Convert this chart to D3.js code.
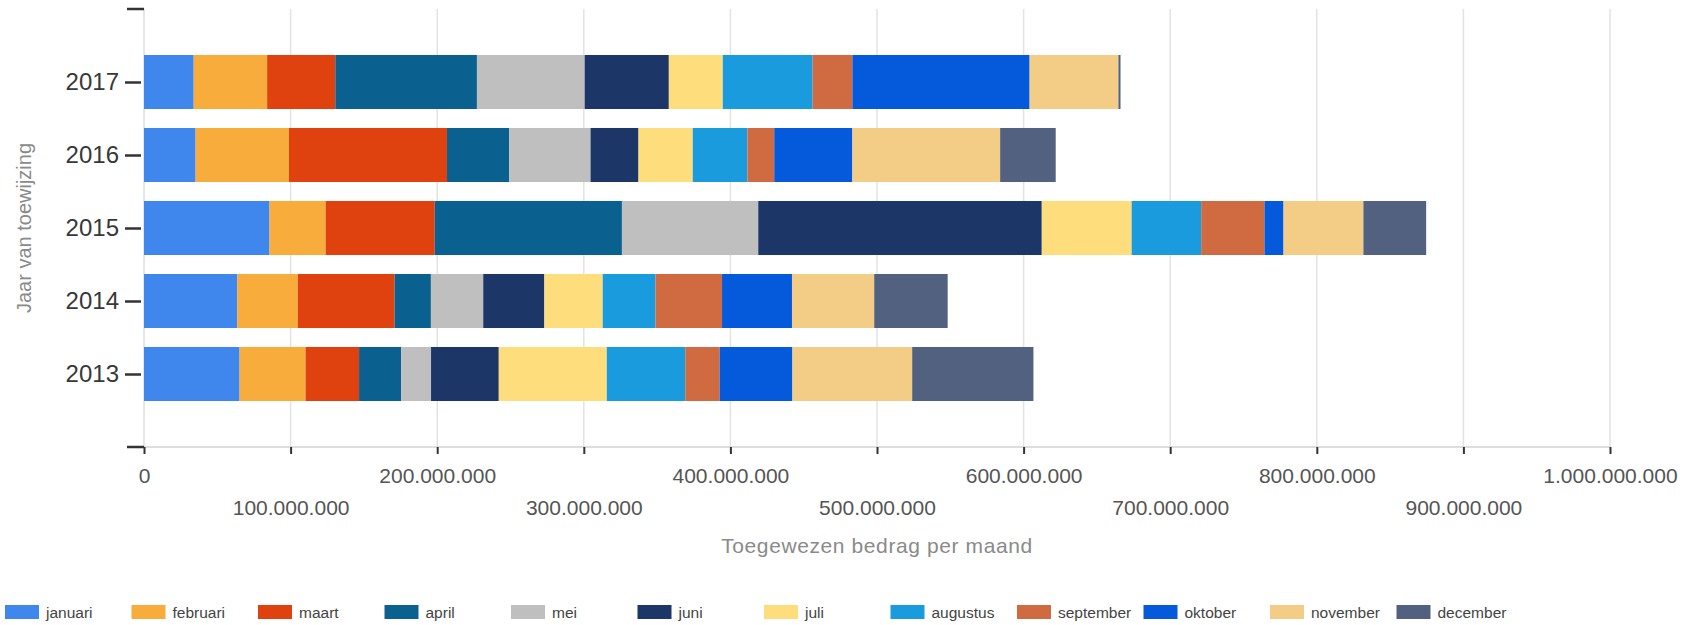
<!DOCTYPE html>
<html>
<head>
<meta charset="utf-8">
<script src="https://cdn.jsdelivr.net/npm/d3@7"></script>
<style>
  html, body { margin: 0; padding: 0; background: #fff; }
  svg { display: block; font-family: "Liberation Sans", Arial, sans-serif; }
</style>
</head>
<body>
<svg id="chart" width="1696" height="625"></svg>
<script>
// Years shown on the vertical axis, top to bottom
const years = ["2017", "2016", "2015", "2014", "2013"];

// Months (stack order, left to right)
const months = ["januari", "februari", "maart", "april", "mei", "juni",
                "juli", "augustus", "september", "oktober", "november", "december"];

const monthColors = ["#3f87ec", "#f8ac3c", "#e0420f", "#0a6190", "#bfbfbf", "#1c3667",
                     "#fedd7d", "#199bde", "#d06a40", "#045adb", "#f3cd85", "#52617f"];

// Allocated amount per month (in euro), one array per year
const values2017 = [33.9e6, 50.1e6, 46.5e6, 96.6e6, 73.5e6, 57.4e6, 36.8e6, 61.3e6, 27.1e6, 120.9e6, 60.6e6, 1.4e6];
const values2016 = [35.2e6, 63.7e6, 107.8e6, 42.5e6, 55.4e6, 32.7e6, 37.0e6, 37.3e6, 18.3e6, 53.3e6, 100.8e6, 37.9e6];
const values2015 = [85.6e6, 38.3e6, 74.4e6, 127.7e6, 93.0e6, 193.4e6, 61.3e6, 47.4e6, 43.2e6, 13.0e6, 54.5e6, 42.8e6];
const values2014 = [63.6e6, 41.3e6, 66.0e6, 24.8e6, 35.7e6, 41.7e6, 39.8e6, 36.0e6, 45.4e6, 47.7e6, 56.1e6, 50.1e6];
const values2013 = [65.2e6, 45.0e6, 36.5e6, 28.7e6, 20.4e6, 46.2e6, 73.7e6, 53.5e6, 23.5e6, 49.6e6, 81.7e6, 82.7e6];

// X axis ticks
const xTicks = [0, 100e6, 200e6, 300e6, 400e6, 500e6, 600e6, 700e6, 800e6, 900e6, 1000e6];

const valuesByYear = {
  "2017": values2017, "2016": values2016, "2015": values2015,
  "2014": values2014, "2013": values2013
};

// Build rows for the stack layout
const rows = years.map(y => {
  const r = { year: y };
  months.forEach((m, i) => { r[m] = valuesByYear[y][i]; });
  return r;
});

const svg = d3.select("#chart");

const plot = { left: 144, right: 1610, top: 9, bottom: 447 };

const x = d3.scaleLinear().domain([0, 1000e6]).range([plot.left, plot.right]);
const y = d3.scalePoint().domain(years).range([plot.top, plot.bottom]).padding(1);
const barH = y.step() * 0.74;

const color = d3.scaleOrdinal().domain(months).range(monthColors);

const nl = d3.formatLocale({ decimal: ",", thousands: ".", grouping: [3], currency: ["€", ""] });
const fmt = nl.format(",d");

// Vertical gridlines
svg.append("g")
  .selectAll("line")
  .data(xTicks.filter(t => t > 0))
  .join("line")
  .attr("x1", d => x(d)).attr("x2", d => x(d))
  .attr("y1", plot.top).attr("y2", plot.bottom)
  .attr("stroke", "#e3e3e3")
  .attr("stroke-width", 1.5);

// Axis lines (light)
svg.append("line")
  .attr("x1", plot.left).attr("x2", plot.left)
  .attr("y1", plot.top).attr("y2", plot.bottom)
  .attr("stroke", "#dedede").attr("stroke-width", 1.5);
svg.append("line")
  .attr("x1", plot.left).attr("x2", plot.right)
  .attr("y1", plot.bottom).attr("y2", plot.bottom)
  .attr("stroke", "#dedede").attr("stroke-width", 2);

// Stacked bars
const stack = d3.stack().keys(months);
const series = stack(rows);

svg.append("g")
  .selectAll("g")
  .data(series)
  .join("g")
  .attr("fill", d => color(d.key))
  .selectAll("rect")
  .data(d => d)
  .join("rect")
  .attr("x", d => x(d[0]))
  .attr("width", d => Math.max(0, x(d[1]) - x(d[0])))
  .attr("y", d => y(d.data.year) - barH / 2)
  .attr("height", barH);

// Y axis: ticks and labels
const yAxis = d3.axisLeft(y).tickSize(16).tickSizeOuter(0).tickPadding(6);
const gy = svg.append("g")
  .attr("transform", `translate(${plot.left - 3},0)`)
  .call(yAxis);
gy.select(".domain").remove();
gy.selectAll(".tick line").attr("stroke", "#333").attr("stroke-width", 2.5);
gy.selectAll(".tick text")
  .attr("font-size", 24)
  .attr("fill", "#383838")
  .attr("font-family", "'Liberation Sans', Arial, sans-serif");

// End markers of the y axis
[plot.top, plot.bottom].forEach(v => {
  svg.append("line")
    .attr("x1", plot.left - 17).attr("x2", plot.left)
    .attr("y1", v).attr("y2", v)
    .attr("stroke", "#333").attr("stroke-width", 2.5);
});

// X axis: short ticks, labels in two staggered rows
const xAxis = d3.axisBottom(x).tickValues(xTicks).tickSize(7).tickSizeOuter(0).tickFormat(fmt);
const gx = svg.append("g")
  .attr("transform", `translate(0,${plot.bottom})`)
  .call(xAxis);
gx.select(".domain").remove();
gx.selectAll(".tick line").attr("stroke", "#333").attr("stroke-width", 2);
gx.selectAll(".tick text")
  .attr("font-size", 21)
  .attr("fill", "#555")
  .attr("font-family", "'Liberation Sans', Arial, sans-serif")
  .attr("dy", null)
  .attr("y", (d, i) => (i % 2 === 0 ? 36 : 68));

// Axis titles
svg.append("text")
  .attr("x", (plot.left + plot.right) / 2)
  .attr("y", 553)
  .attr("text-anchor", "middle")
  .attr("font-size", 21)
  .attr("letter-spacing", 0.6)
  .attr("fill", "#8a8a8a")
  .text("Toegewezen bedrag per maand");

svg.append("text")
  .attr("transform", `translate(31,${(plot.top + plot.bottom) / 2}) rotate(-90)`)
  .attr("text-anchor", "middle")
  .attr("font-size", 20)
  .attr("fill", "#8a8a8a")
  .text("Jaar van toewijzing");

// Legend
const legend = svg.append("g")
  .selectAll("g")
  .data(months)
  .join("g")
  .attr("transform", (d, i) => `translate(${5 + i * 126.5},605)`);
legend.append("rect")
  .attr("width", 34).attr("height", 14)
  .attr("fill", d => color(d));
legend.append("text")
  .attr("x", 41).attr("y", 7)
  .attr("dominant-baseline", "central")
  .attr("font-size", 15.5)
  .attr("fill", "#444")
  .text(d => d);
</script>
</body>
</html>
